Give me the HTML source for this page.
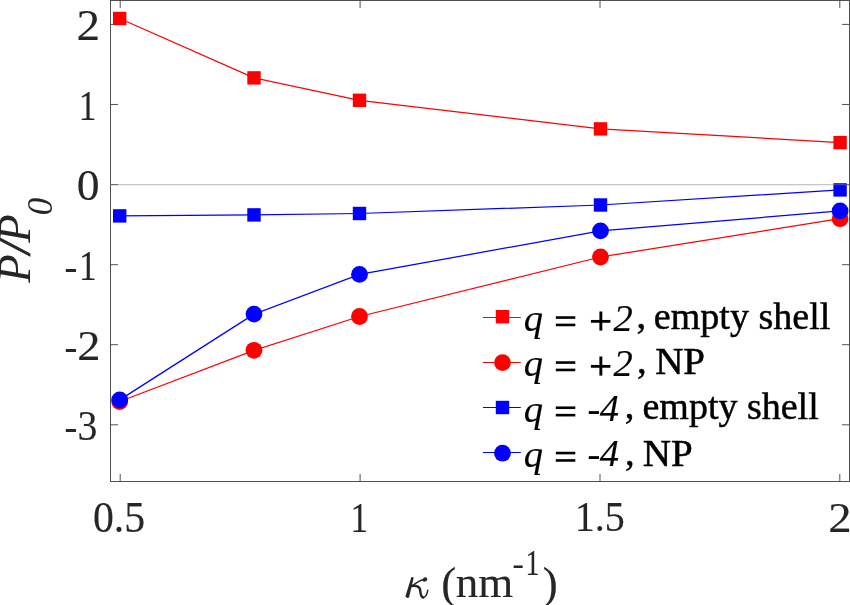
<!DOCTYPE html>
<html><head><meta charset="utf-8"><style>
html,body{margin:0;padding:0;background:#fff;overflow:hidden}
svg{display:block;font-family:"Liberation Serif",serif;will-change:transform}
</style></head><body>
<svg width="850" height="605" viewBox="0 0 850 605">
<rect width="850" height="605" fill="#fff"/>
<rect x="110.5" y="0.5" width="739" height="481" fill="none" stroke="#505050" stroke-width="1"/>
<path d="M110.5 24.4h7.5M849.5 24.4h-7.5" stroke="#505050" stroke-width="1"/>
<path d="M110.5 104.46h7.5M849.5 104.46h-7.5" stroke="#505050" stroke-width="1"/>
<path d="M110.5 184.6h7.5M849.5 184.6h-7.5" stroke="#505050" stroke-width="1"/>
<path d="M110.5 264.7h7.5M849.5 264.7h-7.5" stroke="#505050" stroke-width="1"/>
<path d="M110.5 344.7h7.5M849.5 344.7h-7.5" stroke="#505050" stroke-width="1"/>
<path d="M110.5 424.8h7.5M849.5 424.8h-7.5" stroke="#505050" stroke-width="1"/>
<path d="M120.2 481.5v-7.5M120.2 0.5v7.5" stroke="#505050" stroke-width="1"/>
<path d="M360.1 481.5v-7.5M360.1 0.5v7.5" stroke="#505050" stroke-width="1"/>
<path d="M600.0 481.5v-7.5M600.0 0.5v7.5" stroke="#505050" stroke-width="1"/>
<path d="M839.8 481.5v-7.5M839.8 0.5v7.5" stroke="#505050" stroke-width="1"/>
<polyline points="119.70,18.50 254.00,77.90 359.50,100.30 600.50,128.90 840.10,142.60" fill="none" stroke="#f00" stroke-width="1.25"/><rect x="113.00" y="11.80" width="13.4" height="13.4" fill="#f00"/><rect x="247.30" y="71.20" width="13.4" height="13.4" fill="#f00"/><rect x="352.80" y="93.60" width="13.4" height="13.4" fill="#f00"/><rect x="593.80" y="122.20" width="13.4" height="13.4" fill="#f00"/><rect x="833.40" y="135.90" width="13.4" height="13.4" fill="#f00"/>
<polyline points="119.70,401.50 254.00,350.30 359.50,316.50 600.50,257.00 840.10,218.70" fill="none" stroke="#f00" stroke-width="1.25"/><circle cx="119.70" cy="401.50" r="8.4" fill="#f00"/><circle cx="254.00" cy="350.30" r="8.4" fill="#f00"/><circle cx="359.50" cy="316.50" r="8.4" fill="#f00"/><circle cx="600.50" cy="257.00" r="8.4" fill="#f00"/><circle cx="840.10" cy="218.70" r="8.4" fill="#f00"/>
<polyline points="119.70,215.90 254.00,214.90 359.50,213.50 600.50,205.00 840.10,189.90" fill="none" stroke="#00f" stroke-width="1.25"/><rect x="113.00" y="209.20" width="13.4" height="13.4" fill="#00f"/><rect x="247.30" y="208.20" width="13.4" height="13.4" fill="#00f"/><rect x="352.80" y="206.80" width="13.4" height="13.4" fill="#00f"/><rect x="593.80" y="198.30" width="13.4" height="13.4" fill="#00f"/><rect x="833.40" y="183.20" width="13.4" height="13.4" fill="#00f"/>
<polyline points="119.70,399.85 254.00,314.10 359.50,274.40 600.50,230.90 840.10,210.90" fill="none" stroke="#00f" stroke-width="1.25"/><circle cx="119.70" cy="399.85" r="8.4" fill="#00f"/><circle cx="254.00" cy="314.10" r="8.4" fill="#00f"/><circle cx="359.50" cy="274.40" r="8.4" fill="#00f"/><circle cx="600.50" cy="230.90" r="8.4" fill="#00f"/><circle cx="840.10" cy="210.90" r="8.4" fill="#00f"/>
<rect x="110" y="184" width="739" height="1" fill="#828282" fill-opacity="0.45"/><rect x="110" y="185" width="739" height="1" fill="#828282" fill-opacity="0.14"/>
<path d="M483 317.5H520.8" stroke="#f00" stroke-width="1"/>
<rect x="495.80" y="310.00" width="13.4" height="13.4" fill="#f00"/>
<path d="M483 362.5H520.8" stroke="#f00" stroke-width="1"/>
<circle cx="502.5" cy="362.6" r="8.4" fill="#f00"/>
<path d="M483 407.5H520.8" stroke="#00f" stroke-width="1"/>
<rect x="495.80" y="400.80" width="13.4" height="13.4" fill="#00f"/>
<path d="M483 452.5H520.8" stroke="#00f" stroke-width="1"/>
<circle cx="502.5" cy="453.2" r="8.4" fill="#00f"/>
<g transform="translate(76.62,39.70) scale(1.072,0.985)"><text font-size="44" fill="#262626" stroke="#262626" stroke-width="0.15" >2</text></g>
<g transform="translate(78.65,119.70) scale(0.800,0.974)"><text font-size="44" fill="#262626" stroke="#262626" stroke-width="0.15" >1</text></g>
<g transform="translate(76.74,200.01) scale(1.037,0.985)"><text font-size="44" fill="#262626" stroke="#262626" stroke-width="0.15" >0</text></g>
<g transform="translate(64.39,280.18) scale(0.877,0.923)"><text font-size="44" fill="#262626" stroke="#262626" stroke-width="0.15" >-</text></g>
<g transform="translate(78.90,279.80) scale(0.800,0.950)"><text font-size="44" fill="#262626" stroke="#262626" stroke-width="0.15" >1</text></g>
<g transform="translate(64.39,360.18) scale(0.877,0.923)"><text font-size="44" fill="#262626" stroke="#262626" stroke-width="0.15" >-</text></g>
<g transform="translate(77.15,360.10) scale(1.056,0.961)"><text font-size="44" fill="#262626" stroke="#262626" stroke-width="0.15" >2</text></g>
<g transform="translate(64.39,440.18) scale(0.877,0.923)"><text font-size="44" fill="#262626" stroke="#262626" stroke-width="0.15" >-</text></g>
<g transform="translate(77.59,440.22) scale(0.904,0.965)"><text font-size="44" fill="#262626" stroke="#262626" stroke-width="0.15" >3</text></g>
<g transform="translate(92.93,531.66) scale(0.950,0.983)"><text font-size="44" fill="#262626" stroke="#262626" stroke-width="0.15" >0.5</text></g>
<g transform="translate(350.55,532.00) scale(0.800,0.974)"><text font-size="44" fill="#262626" stroke="#262626" stroke-width="0.15" >1</text></g>
<g transform="translate(574.79,531.28) scale(0.909,0.960)"><text font-size="44" fill="#262626" stroke="#262626" stroke-width="0.15" >1.5</text></g>
<g transform="translate(828.14,531.80) scale(1.061,0.968)"><text font-size="44" fill="#262626" stroke="#262626" stroke-width="0.15" >2</text></g>
<g transform="translate(523.83,331.30)"><text font-size="38.5" fill="#000" stroke="#000" stroke-width="0.15" font-style="italic">q</text></g>
<g transform="translate(613.45,330.90)"><text font-size="38.5" fill="#000" stroke="#000" stroke-width="0.15" font-style="italic">2</text></g>
<g transform="translate(636.38,328.15)"><text font-size="38.5" fill="#000" stroke="#000" stroke-width="0.5">,</text></g>
<g transform="translate(653.87,329.44) scale(0.988,0.961)"><text font-size="38.5" fill="#000" stroke="#000" stroke-width="0.5">empty shell</text></g>
<g transform="translate(523.83,376.30)"><text font-size="38.5" fill="#000" stroke="#000" stroke-width="0.15" font-style="italic">q</text></g>
<g transform="translate(613.45,375.90)"><text font-size="38.5" fill="#000" stroke="#000" stroke-width="0.15" font-style="italic">2</text></g>
<g transform="translate(637.12,372.55)"><text font-size="38.5" fill="#000" stroke="#000" stroke-width="0.5">,</text></g>
<g transform="translate(655.14,373.55) scale(1.014,1.002)"><text font-size="38.5" fill="#000" stroke="#000" stroke-width="0.5">NP</text></g>
<g transform="translate(523.83,421.50)"><text font-size="38.5" fill="#000" stroke="#000" stroke-width="0.15" font-style="italic">q</text></g>
<g transform="translate(587.52,421.50)"><text font-size="38.5" fill="#000" stroke="#000" stroke-width="0.15" font-style="italic">-</text></g>
<g transform="translate(599.80,421.10)"><text font-size="38.5" fill="#000" stroke="#000" stroke-width="0.15" font-style="italic">4</text></g>
<g transform="translate(624.83,418.15)"><text font-size="38.5" fill="#000" stroke="#000" stroke-width="0.5">,</text></g>
<g transform="translate(642.47,419.44) scale(0.987,0.961)"><text font-size="38.5" fill="#000" stroke="#000" stroke-width="0.5">empty shell</text></g>
<g transform="translate(523.83,466.80)"><text font-size="38.5" fill="#000" stroke="#000" stroke-width="0.15" font-style="italic">q</text></g>
<g transform="translate(587.52,466.80)"><text font-size="38.5" fill="#000" stroke="#000" stroke-width="0.15" font-style="italic">-</text></g>
<g transform="translate(599.80,466.40)"><text font-size="38.5" fill="#000" stroke="#000" stroke-width="0.15" font-style="italic">4</text></g>
<g transform="translate(624.92,465.25)"><text font-size="38.5" fill="#000" stroke="#000" stroke-width="0.5">,</text></g>
<g transform="translate(642.74,466.25) scale(1.016,1.002)"><text font-size="38.5" fill="#000" stroke="#000" stroke-width="0.5">NP</text></g>
<g transform="translate(441.25,597.75)"><text font-size="45" fill="#262626" stroke="#262626" stroke-width="0.15" >(</text></g>
<g transform="translate(455.85,596.98)"><text font-size="45" fill="#262626" stroke="#262626" stroke-width="0.15" >nm</text></g>
<g transform="translate(512.60,574.80)"><text font-size="34" fill="#262626" stroke="#262626" stroke-width="0.15" >-</text></g>
<g transform="translate(525.62,574.80) scale(0.825,1.058)"><text font-size="34" fill="#262626" stroke="#262626" stroke-width="0.15" >1</text></g>
<g transform="translate(542.77,597.55)"><text font-size="45" fill="#262626" stroke="#262626" stroke-width="0.15" >)</text></g>
<g transform="translate(29.80,282.80)"><text font-size="46.5" fill="#262626" font-style="italic" transform="rotate(-90)">P</text></g>
<g transform="translate(29.75,254.05)"><text font-size="46.5" fill="#262626" stroke="#262626" stroke-width="0.8" font-style="italic" transform="rotate(-90)">/</text></g>
<g transform="translate(29.80,242.70)"><text font-size="46.5" fill="#262626" font-style="italic" transform="rotate(-90)">P</text></g>
<g transform="translate(51.95,215.35)"><text font-size="35" fill="#262626" font-style="italic" transform="rotate(-90)">0</text></g>
<rect x="555.8" y="316.25" width="19.5" height="2.6" fill="#000"/><rect x="555.8" y="323.65" width="19.5" height="2.6" fill="#000"/>
<rect x="590.9" y="319.95" width="19.5" height="2.8" fill="#000"/><rect x="599.4" y="311.50" width="2.9" height="19.1" fill="#000"/>
<rect x="555.8" y="361.25" width="19.5" height="2.6" fill="#000"/><rect x="555.8" y="368.65" width="19.5" height="2.6" fill="#000"/>
<rect x="590.9" y="364.95" width="19.5" height="2.8" fill="#000"/><rect x="599.4" y="356.50" width="2.9" height="19.1" fill="#000"/>
<rect x="555.8" y="406.45" width="19.5" height="2.6" fill="#000"/><rect x="555.8" y="413.85" width="19.5" height="2.6" fill="#000"/>
<rect x="555.8" y="451.75" width="19.5" height="2.6" fill="#000"/><rect x="555.8" y="459.15" width="19.5" height="2.6" fill="#000"/>
<g fill="#262626"><path d="M411.34 577.19Q412.7 576.4 413.66 577.81L409.03 597.5Q407 598.7 405.37 596.5Z"/>
<ellipse cx="424.9" cy="579.5" rx="2.45" ry="2.05" transform="rotate(-25 424.9 579.5)"/></g>
<g fill="none" stroke="#262626" stroke-linecap="round">
<path d="M411.6 586.4C415 583.6 419 580.6 423.2 579.8" stroke-width="1.5"/>
<path d="M411.4 586.0C416 585.3 419.7 586.3 420.1 589.6C420.5 593 420.6 597.3 423.2 597.4" stroke-width="2.5"/>
<path d="M423.2 597.4C425.8 597.5 427.2 593.5 427.8 590.2" stroke-width="1.5"/>
</g>
</svg>
</body></html>
